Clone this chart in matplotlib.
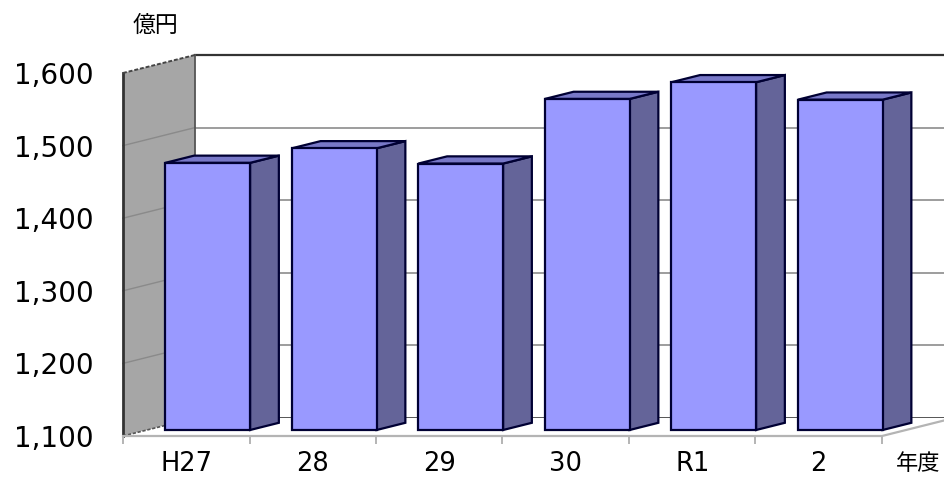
import matplotlib
matplotlib.use("Agg")
import matplotlib.pyplot as plt
from matplotlib.patches import Polygon

plt.rcParams['font.family'] = ['DejaVu Sans', 'Noto Sans CJK JP']

categories = ["H27", "28", "29", "30", "R1", "2"]
values = [1468, 1488, 1467, 1556, 1579, 1555]
yticks = [1100, 1200, 1300, 1400, 1500, 1600]
y_unit = "億円"
x_unit = "年度"

YMIN, YMAX = 1100, 1600
DX, DY = 0.569, 24.8          # full depth offset in data units
F0, F1 = 1/3, 0.733           # bar front / back depth fractions
BL, BW = -0.355, 0.67         # bar left offset & width

front_c = "#9999FF"
side_c = "#646499"
top_c = "#7878C8"
edge_c = "#000033"

fig = plt.figure(figsize=(9.45, 4.78), dpi=100)
ax = fig.add_axes([123/945, (478-436)/478, 759/945, 363/478])
ax.set_xlim(-0.5, len(categories) - 0.5)
ax.set_ylim(YMIN, YMAX)
for s in ax.spines.values():
    s.set_visible(False)

xl, xr = -0.5, len(categories) - 0.5

def poly(pts, fc, ec="none", lw=0, z=1, **kw):
    p = Polygon(pts, closed=True, facecolor=fc, edgecolor=ec, linewidth=lw,
                zorder=z, clip_on=False, joinstyle="miter", **kw)
    ax.add_patch(p)

# back wall
poly([(xl+DX, YMIN+DY), (xr+DX+1, YMIN+DY), (xr+DX+1, YMAX+DY), (xl+DX, YMAX+DY)], "white", z=0.5)
for v in yticks[1:-1]:
    ax.plot([xl+DX, xr+DX+1], [v+DY, v+DY], color="#8c8c8c", lw=1.2, clip_on=False, zorder=1)
ax.plot([xl+DX, xr+DX+1], [YMAX+DY, YMAX+DY], color="#333333", lw=1.6, clip_on=False, zorder=1)
ax.plot([xl+DX, xr+DX+1], [YMIN+DY, YMIN+DY], color="#555555", lw=1.4, clip_on=False, zorder=1)

# left wall
poly([(xl, YMIN), (xl, YMAX), (xl+DX, YMAX+DY), (xl+DX, YMIN+DY)], "#a6a6a6", z=1)
for v in yticks[1:-1]:
    ax.plot([xl, xl+DX], [v, v+DY], color="#8a8a8a", lw=1.0, clip_on=False, zorder=1.1)
ax.plot([xl, xl], [YMIN, YMAX], color="#333333", lw=2.0, clip_on=False, zorder=1.2)
ax.plot([xl+DX, xl+DX], [YMIN+DY, YMAX+DY], color="#555555", lw=1.3, clip_on=False, zorder=1.2)
ax.plot([xl, xl+DX], [YMAX, YMAX+DY], color="#444444", lw=1.4, ls=(0, (2, 1)), clip_on=False, zorder=1.2)
ax.plot([xl, xl+DX], [YMIN, YMIN+DY], color="#555555", lw=1.2, ls=(0, (2, 1)), clip_on=False, zorder=1.2)

# floor
poly([(xl, YMIN), (xr, YMIN), (xr+DX, YMIN+DY), (xl+DX, YMIN+DY)], "white", z=1.05)
ax.plot([xl, xr, xr+DX], [YMIN, YMIN, YMIN+DY], color="#b4b4b4", lw=1.6, clip_on=False, zorder=1.3)

# bars
for i, v in enumerate(values):
    x0 = i + BL
    x1 = x0 + BW
    fx0, fx1 = x0 + F0*DX, x1 + F0*DX
    by0, by1 = YMIN + F0*DY, YMIN + F1*DY
    bx1 = x1 + F1*DX
    bx0 = x0 + F1*DX
    poly([(fx1, by0), (bx1, by1), (bx1, v+F1*DY), (fx1, v+F0*DY)], side_c, edge_c, 1.6, z=2)
    poly([(fx0, v+F0*DY), (fx1, v+F0*DY), (bx1, v+F1*DY), (bx0, v+F1*DY)], top_c, edge_c, 1.6, z=2)
    poly([(fx0, by0), (fx1, by0), (fx1, v+F0*DY), (fx0, v+F0*DY)], front_c, edge_c, 1.6, z=3)

# ticks
ax.set_yticks(yticks)
ax.set_yticklabels([f"{t:,}" for t in yticks], fontsize=20, color="black")
ax.tick_params(axis="y", length=0, pad=21)
ax.set_xticks(range(len(categories)))
ax.set_xticklabels(categories, fontsize=18.5, color="black")
ax.tick_params(axis="x", which="major", length=0, pad=11)
ax.set_xticks([k - 0.5 for k in range(len(categories) + 1)], minor=True)
ax.tick_params(axis="x", which="minor", length=6, width=1.4, color="#b4b4b4", direction="out")

fig.text(155/945, 1 - 25/478, y_unit, ha="center", va="center", fontsize=16.5,
         family=["Noto Sans CJK JP"], color="black")
fig.text(918/945, 1 - 463/478, x_unit, ha="center", va="center", fontsize=16,
         family=["Noto Sans CJK JP"], color="black")

fig.savefig("out.png", dpi=100)
